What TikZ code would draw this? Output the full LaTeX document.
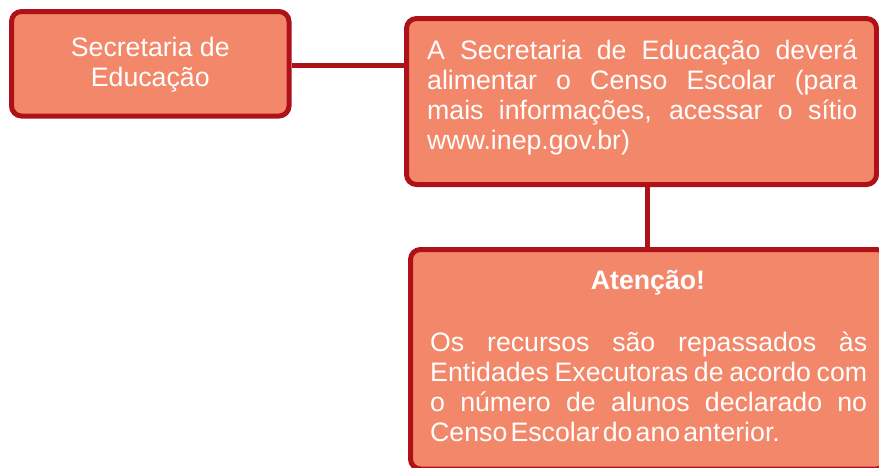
\documentclass[tikz,border=0pt]{standalone}
\usepackage{fontspec}
\setmainfont{Liberation Sans}
\definecolor{boxfill}{RGB}{243,135,106}
\definecolor{boxline}{RGB}{174,18,24}
\begin{document}
\begin{tikzpicture}[x=1pt,y=-1pt,
  box/.style={draw=boxline, line width=5pt, fill=boxfill, rounded corners=10pt, inner sep=0pt},
  conn/.style={draw=boxline, line width=5pt},
  txt/.style={text=white, font=\fontsize{26.7}{30}\selectfont, inner sep=0pt}]
\clip (0,0) rectangle (879,467);
\fill[white] (0,0) rectangle (879,467);
% boxes
\node[box, minimum width=277.5pt, minimum height=104.5pt] (b1) at (150.25,63.75) {};
\node[box, minimum width=470pt, minimum height=166pt] (b2) at (641.5,101.5) {};
\node[box, minimum width=476pt, minimum height=219.5pt] (b3) at (648.5,359.25) {};
% connectors
\draw[conn] (b1.east |- 0,65.5) -- (b2.west |- 0,65.5);
\draw[conn] (b2.south -| 647,0) -- (b3.north -| 647,0);
% texts
\node[txt, align=center] (t1) at (150.25,64.5) {Secretaria de\\Educação};
\node[txt, anchor=north west, text width=430pt, align=justify] (t2) at (427,39.5)
  {A Secretaria de Educação deverá\linebreak alimentar o Censo Escolar (para\linebreak mais informações, acessar o sítio\linebreak www.inep.gov.br)};
\node[txt, font=\fontsize{26.7}{30}\selectfont\bfseries] (t3) at (648,283) {Atenção!};
\node[txt, anchor=north west, text width=437pt, align=justify] (t4) at (430,332)
  {Os recursos são repassados às\linebreak Entidades Executoras de acordo com\linebreak o número de alunos declarado no\linebreak {\spaceskip=0.12em plus 0.1em minus 0.05em Censo Escolar do ano anterior.}};
\end{tikzpicture}
\end{document}
